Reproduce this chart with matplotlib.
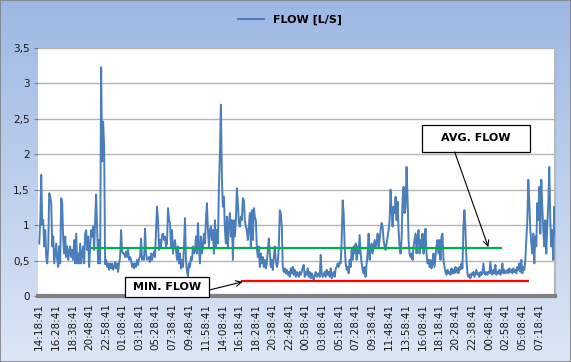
import numpy as np
import matplotlib

matplotlib.use("Agg")
import matplotlib.pyplot as plt
from matplotlib.colors import LinearSegmentedColormap
from matplotlib.patches import Rectangle
from matplotlib.ticker import FuncFormatter

# flow readings [L/s] in six consecutive stretches
FLOW_PART1 = [
    0.74, 1.07, 1.71, 1.00, 1.07, 0.70, 0.93, 0.55, 0.46, 0.70, 1.45, 1.40, 1.31,
    0.70, 0.84, 0.46, 0.60, 0.74, 0.51, 0.41, 0.70, 0.46, 1.38, 1.31, 0.79, 0.60,
    0.84, 0.55, 0.70, 0.51, 0.63, 0.70, 0.55, 0.65, 0.51, 0.79, 0.46, 0.88, 0.46,
    0.60, 0.46, 0.74, 0.46, 0.60, 0.70, 0.46, 0.88, 0.93, 0.65, 0.84, 0.41, 0.70,
    0.93, 0.84, 0.98, 0.65, 1.07, 1.43, 0.93, 0.46, 0.79, 0.46, 3.23, 1.90, 2.46,
    2.12, 0.45, 0.51, 0.41, 0.46, 0.37, 0.46, 0.39, 0.46, 0.37, 0.41, 0.48, 0.39,
    0.46, 0.34, 0.46, 0.55, 0.93, 0.63, 0.60,
]
FLOW_PART2 = [
    0.60, 0.55, 0.63, 0.55, 0.65, 0.51, 0.55, 0.51, 0.41, 0.46, 0.39, 0.46, 0.41,
    0.51, 0.44, 0.53, 0.55, 0.81, 0.51, 0.55, 0.51, 0.95, 0.60, 0.51, 0.53, 0.55,
    0.48, 0.60, 0.51, 0.58, 0.63, 0.55, 0.93, 1.26, 1.07, 0.65, 0.79, 0.70, 0.86,
    0.88, 0.79, 0.84, 0.70, 0.74, 1.24, 1.07, 1.03, 0.70, 0.93, 0.60, 0.74, 0.79,
    0.65, 0.51, 0.70, 0.46, 0.60, 0.39, 0.51, 0.41, 0.70, 1.10, 0.51, 0.34, 0.28,
    0.46, 0.41, 0.55, 0.51, 0.70, 0.60, 0.63, 0.84, 0.60, 1.03, 0.70, 0.46, 0.84,
    0.60, 0.70, 0.88, 0.74, 1.07, 1.31, 0.93, 0.70, 0.93,
]
FLOW_PART3 = [
    0.98, 0.79, 0.93, 0.60, 1.07, 0.70, 0.93, 0.74, 1.54, 2.00, 2.70, 1.64, 1.26,
    1.40, 0.93, 0.74, 1.12, 0.70, 1.03, 1.17, 0.84, 1.07, 0.51, 1.07, 0.84, 1.07,
    1.52, 1.31, 1.03, 0.98, 1.12, 1.07, 1.38, 1.35, 1.07, 0.98, 0.93, 0.79, 0.98,
    1.17, 0.70, 1.21, 0.79, 1.24, 1.12, 1.07, 0.67, 0.55, 0.70, 0.41, 0.60, 0.46,
    0.55, 0.41, 0.51, 0.39, 0.46, 0.65, 0.81, 0.60, 0.41, 0.51, 0.37, 0.55, 0.70,
    0.51, 0.41, 0.46, 0.70, 1.21, 1.17, 0.98, 0.41, 0.34, 0.39, 0.32, 0.37, 0.30,
    0.34, 0.27, 0.39, 0.32, 0.41, 0.30, 0.37, 0.27, 0.34,
]
FLOW_PART4 = [
    0.32, 0.27, 0.34, 0.30, 0.34, 0.41, 0.44, 0.27, 0.34, 0.30, 0.39, 0.27, 0.34,
    0.25, 0.32, 0.27, 0.23, 0.30, 0.34, 0.27, 0.30, 0.32, 0.27, 0.58, 0.32, 0.27,
    0.30, 0.34, 0.27, 0.37, 0.30, 0.34, 0.27, 0.39, 0.25, 0.30, 0.34, 0.27, 0.39,
    0.41, 0.46, 0.41, 0.48, 0.46, 0.79, 1.35, 1.17, 0.70, 0.46, 0.37, 0.41, 0.32,
    0.51, 0.41, 0.65, 0.51, 0.70, 0.60, 0.74, 0.51, 0.70, 0.60, 0.86, 0.60, 0.46,
    0.37, 0.32, 0.41, 0.27, 0.46, 0.60, 0.88, 0.51, 0.65, 0.74, 0.60, 0.70, 0.79,
    0.70, 0.74, 0.88, 0.70, 0.79, 0.93, 1.03, 0.98, 0.79,
]
FLOW_PART5 = [
    0.70, 0.65, 0.74, 0.84, 0.93, 1.07, 1.50, 1.21, 0.98, 1.26, 1.17, 1.40, 1.07,
    1.33, 0.93, 0.70, 0.60, 0.79, 1.35, 1.54, 1.17, 1.26, 1.82, 1.40, 0.79, 0.60,
    0.55, 0.60, 0.51, 0.70, 0.79, 0.88, 0.60, 0.84, 0.93, 0.60, 0.79, 0.70, 0.88,
    0.60, 0.74, 0.95, 0.60, 0.46, 0.51, 0.41, 0.51, 0.39, 0.46, 0.60, 0.41, 0.55,
    0.70, 0.79, 0.60, 0.79, 0.51, 0.84, 0.88, 0.51, 0.41, 0.34, 0.30, 0.37, 0.32,
    0.34, 0.30, 0.39, 0.32, 0.37, 0.32, 0.41, 0.34, 0.39, 0.32, 0.41, 0.37, 0.46,
    0.39, 0.98, 1.21, 0.93, 0.51, 0.32, 0.27, 0.30, 0.25,
]
FLOW_PART6 = [
    0.32, 0.30, 0.34, 0.27, 0.32, 0.37, 0.30, 0.32, 0.27, 0.34, 0.30, 0.32, 0.46,
    0.32, 0.30, 0.34, 0.30, 0.34, 0.32, 0.48, 0.32, 0.30, 0.37, 0.32, 0.44, 0.30,
    0.34, 0.32, 0.37, 0.30, 0.34, 0.46, 0.32, 0.37, 0.32, 0.34, 0.37, 0.32, 0.39,
    0.34, 0.37, 0.32, 0.39, 0.34, 0.37, 0.32, 0.41, 0.37, 0.46, 0.34, 0.51, 0.32,
    0.41, 0.37, 0.51, 0.79, 1.07, 1.64, 1.31, 0.93, 0.74, 0.60, 0.88, 0.46, 0.84,
    0.70, 1.31, 1.07, 1.54, 0.88, 1.64, 1.26, 0.93, 0.70, 1.07, 0.60, 0.98, 1.31,
    1.82, 1.07, 0.70, 0.93, 0.51, 1.26, 0.88,
]
SAMPLE_MIN = 7.79  # spacing of the read-off samples, minutes

TICK_LABELS = [
    "14:18:41", "16:28:41", "18:38:41", "20:48:41", "22:58:41", "01:08:41",
    "03:18:41", "05:28:41", "07:38:41", "09:48:41", "11:58:41", "14:08:41",
    "16:18:41", "18:28:41", "20:38:41", "22:48:41", "00:58:41", "03:08:41",
    "05:18:41", "07:28:41", "09:38:41", "11:48:41", "13:58:41", "16:08:41",
    "18:18:41", "20:28:41", "22:38:41", "00:48:41", "02:58:41", "05:08:41",
    "07:18:41",
]
TICK_STEP_MIN = 130

AVG_FLOW = 0.68
AVG_SPAN = [400, 3612]  # minutes
MIN_FLOW = 0.21
MIN_SPAN = [1571, 3822]

flow = np.concatenate(
    [FLOW_PART1, FLOW_PART2, FLOW_PART3, FLOW_PART4, FLOW_PART5, FLOW_PART6]
)
t = np.arange(len(flow)) * SAMPLE_MIN
ticks = np.arange(len(TICK_LABELS)) * TICK_STEP_MIN

fig = plt.figure(figsize=(5.71, 3.62), dpi=100)

# gradient background ---------------------------------------------------------
bg = fig.add_axes([0, 0, 1, 1])
cmap = LinearSegmentedColormap.from_list("bg", ["#dce6f5", "#9db8e4"])
bg.imshow(
    np.linspace(0, 1, 256)[:, None],
    aspect="auto",
    cmap=cmap,
    origin="lower",
    extent=[0, 1, 0, 1],
)
bg.set_axis_off()
fig.patches.append(
    Rectangle((0, 0), 1, 1, transform=fig.transFigure, fill=False,
              edgecolor="#7f7f7f", lw=1.2)
)

# main plot -------------------------------------------------------------------
ax = fig.add_axes([0.0665, 0.1823, 0.9054, 0.6851])
ax.set_facecolor("white")
ax.plot(t, flow, color="#4a7ebb", lw=1.4, label="FLOW [L/S]", zorder=3)
ax.hlines(AVG_FLOW, *AVG_SPAN, color="#00b050", lw=1.6, zorder=4)
ax.hlines(MIN_FLOW, *MIN_SPAN, color="#ff0000", lw=1.6, zorder=4)

ax.set_xlim(-10, 4025)
ax.set_ylim(0, 3.5)
ax.set_yticks(np.arange(0, 3.51, 0.5))
ax.yaxis.set_major_formatter(
    FuncFormatter(lambda v, _: f"{v:g}".replace(".", ","))
)
ax.set_xticks(ticks)
ax.set_xticklabels(TICK_LABELS, rotation=90)
ax.tick_params(axis="x", length=0, pad=5, labelsize=7.5, colors="#1a1a1a")
ax.tick_params(axis="y", length=3, pad=3, labelsize=7.5, colors="#1a1a1a",
               color="#808080")
ax.grid(axis="y", color="#b3b3b3", lw=1)
ax.set_axisbelow(True)
for side in ["top", "left"]:
    ax.spines[side].set_visible(False)
ax.spines["bottom"].set_color("#808080")
ax.spines["bottom"].set_linewidth(3)
ax.spines["right"].set_color("#b8b8b8")
ax.spines["right"].set_linewidth(1.5)

# annotations -----------------------------------------------------------------
box_kw = dict(transform=ax.transAxes, fill=True, facecolor="white",
              edgecolor="black", lw=0.9, clip_on=False, zorder=6)
ax.add_patch(Rectangle((0.742, 0.581), 0.210, 0.109, **box_kw))
ax.text(0.847, 0.636, "AVG. FLOW", transform=ax.transAxes, ha="center",
        va="center", fontsize=8, fontweight="bold", zorder=7)
ax.annotate("", xy=(3505, 0.69), xycoords="data", xytext=(0.806, 0.581),
            textcoords="axes fraction",
            arrowprops=dict(arrowstyle="->", color="black", lw=0.8,
                            shrinkA=0, shrinkB=0, mutation_scale=10), zorder=7)

ax.add_patch(Rectangle((0.168, -0.004), 0.163, 0.081, **box_kw))
ax.text(0.2495, 0.037, "MIN. FLOW", transform=ax.transAxes, ha="center",
        va="center", fontsize=8, fontweight="bold", zorder=7)
ax.annotate("", xy=(1587, 0.20), xycoords="data", xytext=(0.331, 0.024),
            textcoords="axes fraction",
            arrowprops=dict(arrowstyle="->", color="black", lw=0.8,
                            shrinkA=0, shrinkB=0, mutation_scale=10), zorder=7)

fig.legend(loc="center", bbox_to_anchor=(0.508, 0.945), frameon=False,
           handlelength=2.4, prop={"size": 8, "weight": "bold"})

fig.savefig("out.png", dpi=100)
